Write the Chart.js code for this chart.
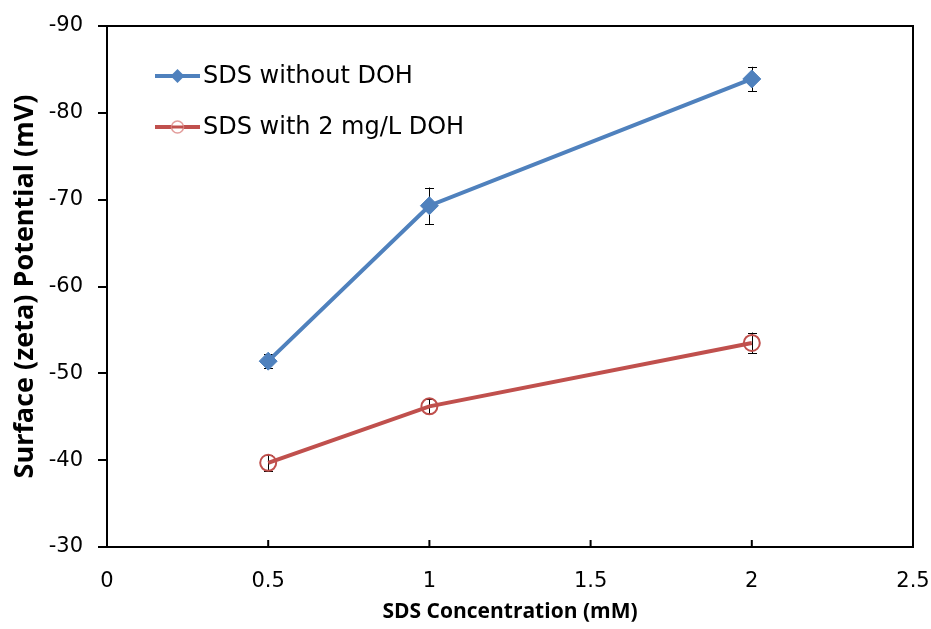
<!DOCTYPE html>
<html>
<head>
<meta charset="utf-8">
<script src="https://cdn.jsdelivr.net/npm/chart.js@4"></script>
<style>
  html, body { margin: 0; padding: 0; background: #fff; }
  #wrap { width: 931px; height: 629px; position: relative; }
</style>
</head>
<body>
<div id="wrap"><canvas id="c" width="931" height="629"></canvas></div>
<script>
// ---- data ----
const concentrations = [0.5, 1, 2];
const withoutDOH = [-51.4, -69.3, -83.9];
const withoutDOHErr = [0.8, 2.1, 1.4];
const withDOH = [-39.7, -46.2, -53.5];
const withDOHErr = [0.9, 0.8, 1.2];
const seriesNames = ['SDS without DOH', 'SDS with 2 mg/L DOH'];
const xTitle = 'SDS Concentration (mM)';
const yTitle = 'Surface (zeta) Potential (mV)';

const BLUE = '#4F81BD';
const RED = '#C0504D';
const FONT = "'DejaVu Sans', sans-serif";
const TFONT = "'Open Sans', 'DejaVu Sans', sans-serif";

const errors = [withoutDOHErr, withDOHErr];

const errorBarPlugin = {
  id: 'errorBars',
  beforeDatasetsDraw(chart) {
    const ctx = chart.ctx;
    const xs = chart.scales.x, ys = chart.scales.y;
    ctx.save();
    ctx.strokeStyle = '#000';
    ctx.lineWidth = 1;
    chart.data.datasets.forEach((ds, i) => {
      ds.data.forEach((p, j) => {
        const e = errors[i][j];
        const px = Math.round(xs.getPixelForValue(p.x)) + 0.5;
        const y1 = ys.getPixelForValue(p.y - e);
        const y2 = ys.getPixelForValue(p.y + e);
        ctx.beginPath();
        ctx.moveTo(px, y1); ctx.lineTo(px, y2);
        ctx.moveTo(px - 4.5, Math.round(y1) + 0.5); ctx.lineTo(px + 4.5, Math.round(y1) + 0.5);
        ctx.moveTo(px - 4.5, Math.round(y2) + 0.5); ctx.lineTo(px + 4.5, Math.round(y2) + 0.5);
        ctx.stroke();
      });
    });
    ctx.restore();
  }
};

const framePlugin = {
  id: 'frame',
  afterDraw(chart) {
    const { ctx, chartArea: a } = chart;
    const xs = chart.scales.x;
    ctx.save();
    ctx.strokeStyle = '#000';
    ctx.lineWidth = 2;
    ctx.beginPath();
    ctx.moveTo(a.left, a.top);
    ctx.lineTo(a.right, a.top);
    ctx.lineTo(a.right, a.bottom);
    ctx.stroke();
    // inside x tick marks
    ctx.beginPath();
    xs.ticks.forEach(t => {
      const px = xs.getPixelForValue(t.value);
      ctx.moveTo(px, a.bottom);
      ctx.lineTo(px, a.bottom - 7);
    });
    ctx.stroke();
    // legend
    const rows = [a.top + 50, a.top + 101];
    chart.data.datasets.forEach((ds, i) => {
      const y = rows[i];
      const x0 = a.left + 48, x1 = a.left + 93, xm = (x0 + x1) / 2;
      ctx.strokeStyle = ds.borderColor;
      ctx.lineWidth = 4;
      ctx.beginPath(); ctx.moveTo(x0, y); ctx.lineTo(x1, y); ctx.stroke();
      if (i === 0) {
        ctx.fillStyle = ds.borderColor;
        ctx.beginPath();
        ctx.moveTo(xm, y - 7); ctx.lineTo(xm + 7, y); ctx.lineTo(xm, y + 7); ctx.lineTo(xm - 7, y);
        ctx.closePath(); ctx.fill();
      } else {
        ctx.fillStyle = '#fff';
        ctx.strokeStyle = '#E39D9B';
        ctx.lineWidth = 1.5;
        ctx.beginPath(); ctx.arc(xm, y, 6, 0, Math.PI * 2); ctx.fill(); ctx.stroke();
        ctx.beginPath(); ctx.moveTo(xm - 6, y); ctx.lineTo(xm + 6, y);
        ctx.strokeStyle = ds.borderColor; ctx.lineWidth = 3; ctx.stroke();
      }
      ctx.fillStyle = '#000';
      ctx.font = '24px ' + FONT;
      ctx.textBaseline = 'middle';
      ctx.textAlign = 'left';
      ctx.fillText(ds.label, x1 + 3, y + 1);
    });
    ctx.restore();
  }
};

const toPoints = (ys) => concentrations.map((x, i) => ({ x, y: ys[i] }));

new Chart(document.getElementById('c'), {
  type: 'line',
  data: {
    datasets: [
      {
        label: seriesNames[0],
        data: toPoints(withoutDOH),
        borderColor: BLUE,
        backgroundColor: BLUE,
        borderWidth: 4,
        pointStyle: 'rectRot',
        pointRadius: 9,
        pointBorderWidth: 1,
        pointBorderColor: BLUE,
        pointBackgroundColor: BLUE,
        tension: 0
      },
      {
        label: seriesNames[1],
        data: toPoints(withDOH),
        borderColor: RED,
        backgroundColor: 'rgba(0,0,0,0)',
        borderWidth: 4,
        pointStyle: 'circle',
        pointRadius: 8,
        pointBorderWidth: 2,
        pointBorderColor: RED,
        pointBackgroundColor: 'rgba(0,0,0,0)',
        tension: 0
      }
    ]
  },
  options: {
    responsive: false,
    animation: false,
    events: [],
    layout: { padding: { top: 26, right: 18, left: 9, bottom: 0 } },
    plugins: { legend: { display: false }, tooltip: { enabled: false } },
    scales: {
      x: {
        type: 'linear',
        min: 0, max: 2.5,
        afterFit(s) { s.height = 82; s.paddingLeft = 0; s.paddingRight = 0; },
        ticks: { stepSize: 0.5, color: '#000', padding: 22, font: { family: FONT, size: 21 }, maxRotation: 0,
                 callback: (v) => String(v) },
        grid: { display: false, drawTicks: false },
        border: { display: true, color: '#000', width: 2 },
        title: { display: true, text: xTitle, color: '#000', font: { family: TFONT, size: 21, weight: 'bold' }, padding: { top: 0, bottom: 4 } }
      },
      y: {
        type: 'linear',
        min: -90, max: -30,
        reverse: true,
        afterFit(s) { s.width = 98; s.paddingTop = 0; s.paddingBottom = 0; },
        ticks: { stepSize: 10, color: '#000', padding: 15, font: { family: FONT, size: 21 },
                 callback: (v) => String(v) },
        grid: { drawOnChartArea: false, drawTicks: true, tickLength: 9, color: '#000', lineWidth: 2 },
        border: { display: true, color: '#000', width: 2 },
        title: { display: true, text: yTitle, color: '#000', font: { family: TFONT, size: 27, weight: 'bold' }, padding: { top: 0, bottom: 0 } }
      }
    }
  },
  plugins: [errorBarPlugin, framePlugin]
});
</script>
</body>
</html>
